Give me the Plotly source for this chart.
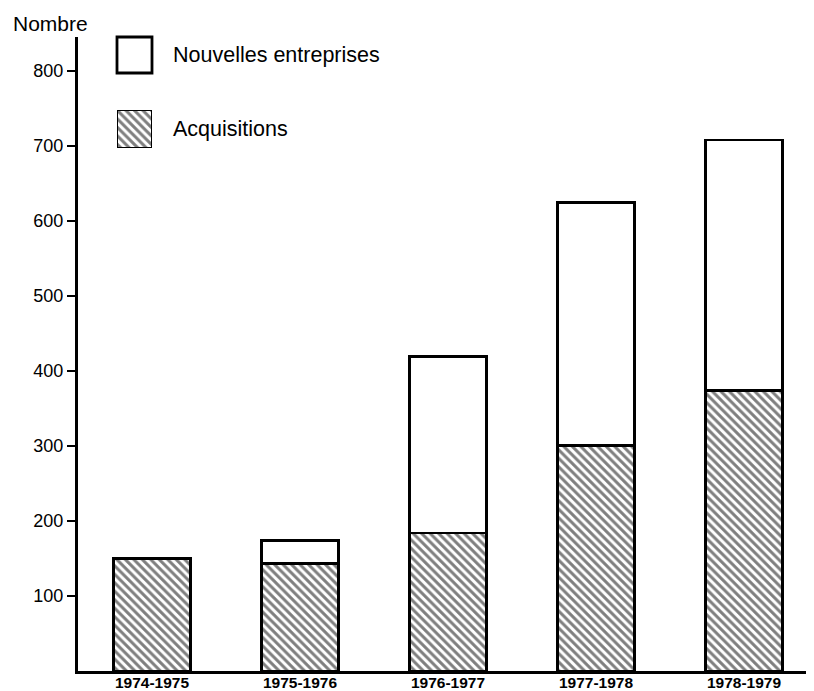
import plotly.graph_objects as go

periodes = ["1974-1975", "1975-1976", "1976-1977", "1977-1978", "1978-1979"]
acquisitions = [150, 143, 184, 301, 374]
nouvelles = [None, 31, 235, 324, 334]
y_ticks = [100, 200, 300, 400, 500, 600, 700, 800]

# page body adds an 8px offset; figure sized so that it ends at the window edge
OFF = 8
W, H = 814 - OFF, 691 - OFF
L, R, T, B = 78 - OFF, 0, 37 - OFF, 20
pw, ph = W - L - R, H - T - B


def px(x):
    return (x - OFF - L) / pw


def py(y):
    return (H - B - (y - OFF)) / ph


FONT = "Liberation Sans, Arial, sans-serif"
HATCH = dict(shape="\\", fgcolor="black", bgcolor="white", size=6, solidity=0.5)

fig = go.Figure()
fig.add_trace(go.Bar(
    x=periodes, y=acquisitions, name="Acquisitions",
    marker=dict(color="white", line=dict(color="black", width=2.8), pattern=HATCH),
    width=0.52, showlegend=False,
))
fig.add_trace(go.Bar(
    x=periodes, y=nouvelles, name="Nouvelles entreprises",
    marker=dict(color="white", line=dict(color="black", width=2.8)),
    width=0.52, showlegend=False,
))

# legend swatch with hatch pattern (on small auxiliary axes)
fig.add_trace(go.Bar(
    x=[0], y=[1], xaxis="x2", yaxis="y2", width=1, showlegend=False,
    hoverinfo="skip",
    marker=dict(color="white", line=dict(color="black", width=2.8), pattern=HATCH),
))

fig.update_layout(
    width=W, height=H,
    margin=dict(l=L, r=R, t=T, b=B),
    paper_bgcolor="white", plot_bgcolor="white",
    barmode="stack",
    font=dict(family=FONT, color="black", size=18),
    xaxis=dict(
        range=[-0.5, -0.5 + pw / 148.0],
        showline=True, linecolor="black", linewidth=3,
        ticks="", showgrid=False, zeroline=False,
        tickfont=dict(size=15.5, family=FONT, weight="bold"),
        ticklabelstandoff=-5,
        automargin=False,
    ),
    yaxis=dict(
        range=[0, ph / 0.75],
        showline=True, linecolor="black", linewidth=3,
        ticks="outside", ticklen=8, tickwidth=2, tickcolor="black",
        tickvals=y_ticks, showgrid=False, zeroline=False,
        tickfont=dict(size=18, family=FONT),
        automargin=False,
    ),
    xaxis2=dict(domain=[px(117), px(152)], range=[-0.5, 0.5], visible=False,
                anchor="y2", fixedrange=True),
    yaxis2=dict(domain=[py(148), py(110)], range=[0, 1], visible=False,
                anchor="x2", fixedrange=True),
    shapes=[
        dict(type="rect", xref="paper", yref="paper",
             x0=px(117), x1=px(152), y0=py(73), y1=py(37),
             line=dict(color="black", width=2.8), fillcolor="white"),
    ],
    annotations=[
        dict(text="Nombre", xref="paper", yref="paper", x=px(11), y=py(24),
             xanchor="left", yanchor="middle", showarrow=False,
             font=dict(size=21, family=FONT)),
        dict(text="Nouvelles entreprises", xref="paper", yref="paper",
             x=px(171), y=py(55), xanchor="left", yanchor="middle",
             showarrow=False, font=dict(size=21.5, family=FONT)),
        dict(text="Acquisitions", xref="paper", yref="paper",
             x=px(171), y=py(129), xanchor="left", yanchor="middle",
             showarrow=False, font=dict(size=21.5, family=FONT)),
    ],
)

fig.write_html("out.html")
